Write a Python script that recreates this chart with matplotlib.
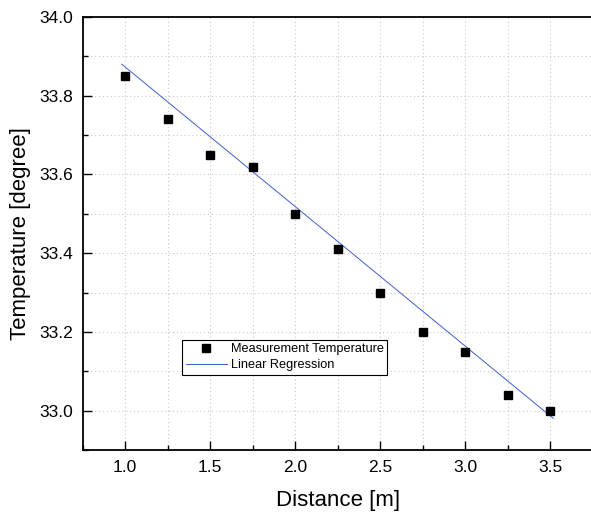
import matplotlib.pyplot as plt
from matplotlib.ticker import MultipleLocator

plt.rcParams["font.family"] = ["Liberation Sans", "DejaVu Sans"]

# measured points
distance = [1.0, 1.25, 1.5, 1.75, 2.0, 2.25, 2.5, 2.75, 3.0, 3.25, 3.5]
temperature = [33.85, 33.74, 33.65, 33.62, 33.50, 33.41, 33.30, 33.20, 33.15, 33.04, 33.00]

# regression line as drawn in the original
reg_x = [0.98, 3.52]
reg_y = [33.88, 32.98]

fig = plt.figure(figsize=(5.91, 5.17), dpi=100)
ax = fig.add_axes([82.7 / 591, 67 / 517, (592.5 - 82.7) / 591, (450 - 17) / 517])

ax.grid(True, which="both", color="#c8c8c8", linestyle=(0, (1, 2.5)), linewidth=0.8, zorder=0)
ax.set_axisbelow(True)

ax.plot(distance, temperature, linestyle="none", marker="s", markersize=6,
        color="black", label="Measurement Temperature", zorder=3)
ax.plot(reg_x, reg_y, color="#3f5fc8", linewidth=0.7, label="Linear Regression", zorder=2)

ax.set_xlim(0.75, 3.75)
ax.set_ylim(32.9, 34.0)
ax.xaxis.set_major_locator(MultipleLocator(0.5))
ax.xaxis.set_minor_locator(MultipleLocator(0.25))
ax.yaxis.set_major_locator(MultipleLocator(0.2))
ax.yaxis.set_minor_locator(MultipleLocator(0.1))
ax.xaxis.set_major_formatter(lambda v, p: f"{v:.1f}")
ax.yaxis.set_major_formatter(lambda v, p: f"{v:.1f}")

ax.tick_params(which="major", direction="in", length=6.5, width=1.0, labelsize=12.5, pad=7)
ax.tick_params(which="minor", direction="in", length=3.3, width=1.0)
ax.tick_params(top=False, right=False)

for s in ax.spines.values():
    s.set_linewidth(1.3)
ax.spines["right"].set_visible(False)

ax.set_xlabel("Distance [m]", fontsize=16, labelpad=11)
ax.set_ylabel("Temperature [degree]", fontsize=16, labelpad=6)

leg = ax.legend(loc="lower left", bbox_to_anchor=(0.195, 0.173), fontsize=9.2,
                frameon=True, fancybox=False, edgecolor="black", framealpha=1,
                borderpad=0.3, labelspacing=0.3, handlelength=3.2, handletextpad=0.3,
                borderaxespad=0)
leg.get_frame().set_linewidth(0.8)

fig.savefig("out.png", dpi=100)
